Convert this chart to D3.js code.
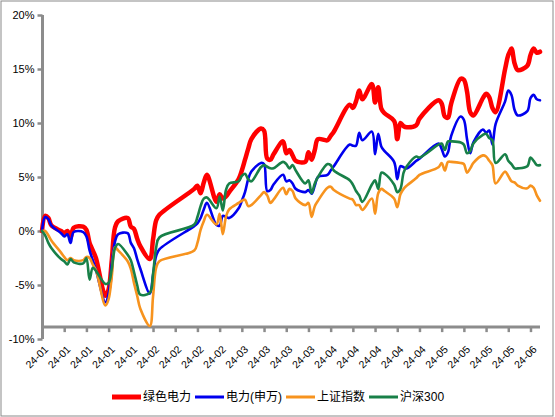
<!DOCTYPE html>
<html>
<head>
<meta charset="utf-8">
<script src="https://cdn.jsdelivr.net/npm/d3@7/dist/d3.min.js"></script>
<style>
  body { margin: 0; background: #fff; }
  svg text { font-family: Arial, "Liberation Sans", "Noto Sans CJK SC", sans-serif; fill: #000; }
</style>
</head>
<body>
<svg id="chart" width="555" height="417"></svg>
<script>
'use strict';

// trading days, 2024
const dates = [
  "2024-01-02","2024-01-03","2024-01-04","2024-01-05","2024-01-08","2024-01-09","2024-01-10","2024-01-11","2024-01-12",
  "2024-01-15","2024-01-16","2024-01-17","2024-01-18","2024-01-19","2024-01-22","2024-01-23","2024-01-24","2024-01-25",
  "2024-01-26","2024-01-29","2024-01-30","2024-01-31",
  "2024-02-01","2024-02-02","2024-02-05","2024-02-06","2024-02-07","2024-02-08","2024-02-19","2024-02-20","2024-02-21",
  "2024-02-22","2024-02-23","2024-02-26","2024-02-27","2024-02-28","2024-02-29",
  "2024-03-01","2024-03-04","2024-03-05","2024-03-06","2024-03-07","2024-03-08","2024-03-11","2024-03-12","2024-03-13",
  "2024-03-14","2024-03-15","2024-03-18","2024-03-19","2024-03-20","2024-03-21","2024-03-22","2024-03-25","2024-03-26",
  "2024-03-27","2024-03-28","2024-03-29",
  "2024-04-01","2024-04-02","2024-04-03","2024-04-08","2024-04-09","2024-04-10","2024-04-11","2024-04-12","2024-04-15",
  "2024-04-16","2024-04-17","2024-04-18","2024-04-19","2024-04-22","2024-04-23","2024-04-24","2024-04-25","2024-04-26",
  "2024-04-29","2024-04-30",
  "2024-05-06","2024-05-07","2024-05-08","2024-05-09","2024-05-10","2024-05-13","2024-05-14","2024-05-15","2024-05-16",
  "2024-05-17","2024-05-20","2024-05-21","2024-05-22","2024-05-23","2024-05-24","2024-05-27","2024-05-28","2024-05-29",
  "2024-05-30","2024-05-31",
  "2024-06-03","2024-06-04","2024-06-05","2024-06-06","2024-06-07"
];

// cumulative return, %
const greenPower = [
  0.0, 1.4, 1.2, 0.5, 0.0, -0.2, 0.0, -0.6, 0.3, 0.4, 0.1, -1.1, -1.8, -2.5, -6.0, -5.4, -2.7, 0.3, 0.9, 1.2, 0.4, 0.2,
  -0.7, -1.4, -2.6, -0.8, 1.0, 1.5, 3.9, 4.2, 3.5, 4.5, 5.2, 2.7, 3.4, 3.0, 3.2,
  3.6, 4.8, 5.6, 6.6, 7.6, 8.5, 9.5, 9.3, 6.7, 6.6, 7.1, 8.3, 7.2, 7.5, 7.0, 6.5, 6.4, 7.3, 6.6, 7.5, 8.5,
  8.4, 8.8, 9.2, 11.7, 11.4, 12.0, 13.0, 12.2, 13.6, 11.9, 13.3, 11.3, 10.9, 10.2, 8.5, 10.0, 9.7, 9.6, 9.8, 10.4,
  12.1, 11.8, 10.6, 10.5, 11.8, 14.1, 14.0, 12.9, 11.0, 10.7, 12.3, 12.7, 12.4, 11.4, 11.0, 15.0, 16.3, 16.9, 15.5, 14.9,
  15.3, 16.3, 16.9, 16.5, 16.6
];
const powerSW = [
  0.0, 1.3, 1.1, 0.5, -0.2, -0.5, -0.3, -1.1, -0.1, -0.1, -0.5, -1.8, -2.7, -3.6, -6.6, -5.8, -3.0, -1.0, -0.3, -0.2, -1.1, -1.6,
  -2.6, -3.5, -5.8, -4.1, -2.3, -1.7, 0.45, 0.7, 1.2, 2.0, 2.6, 0.55, 0.5, 1.4, 1.3,
  1.2, 2.1, 2.8, 3.6, 4.8, 5.5, 6.3, 6.2, 3.7, 3.8, 4.3, 5.2, 4.6, 4.7, 4.4, 3.9, 3.6, 3.8, 3.45, 4.2, 5.0,
  5.2, 5.6, 6.0, 8.0, 7.9, 7.9, 9.1, 8.4, 9.2, 7.1, 9.0, 7.8, 7.4, 6.4, 4.8, 6.0, 5.9, 5.8, 6.5, 6.7,
  8.1, 7.6, 6.9, 7.3, 8.8, 10.6, 10.3, 8.5, 7.2, 8.2, 9.4, 9.1, 9.3, 8.0, 9.9, 12.0, 13.0, 12.6, 11.2, 10.7,
  11.1, 12.3, 12.6, 12.2, 12.1
];
const shComposite = [
  0.0, 0.0, -0.4, -0.9, -2.0, -2.4, -2.7, -2.5, -2.7, -2.7, -2.4, -2.5, -3.1, -3.6, -6.9, -6.3, -4.2, -1.5, -1.8, -2.8, -3.5, -4.8,
  -6.0, -7.2, -8.8, -6.1, -3.4, -2.8, -1.8, -1.1, 0.1, 0.9, 1.5, 0.6, 1.6, -0.3, 1.3,
  2.0, 2.6, 2.8, 2.9, 2.3, 2.4, 3.3, 3.6, 3.3, 2.6, 2.9, 4.0, 3.4, 3.9, 3.7, 3.0, 2.4, 2.6, 1.3, 2.3, 2.8,
  4.0, 4.1, 3.8, 3.0, 2.9, 2.4, 2.4, 1.95, 3.0, 1.6, 3.5, 3.9, 3.7, 3.0, 2.2, 3.4, 3.9, 4.2, 4.9, 5.2,
  5.9, 6.3, 5.6, 6.4, 6.4, 6.3, 6.2, 5.4, 5.8, 6.3, 7.0, 6.9, 6.5, 6.1, 4.4, 5.5, 5.1, 4.6, 4.5, 4.2,
  3.95, 4.2, 4.0, 3.3, 2.8
];
const csi300 = [
  0.0, -0.4, -1.1, -1.6, -2.6, -2.8, -3.1, -2.6, -2.9, -3.0, -2.5, -4.5, -3.4, -3.7, -4.9, -4.8, -3.5, -1.6, -1.2, -2.2, -2.7, -3.8,
  -5.0, -5.9, -5.7, -4.0, -1.5, -0.6, 0.6, 1.3, 2.3, 3.0, 3.1, 2.1, 3.2, 1.9, 3.8,
  4.4, 4.6, 5.1, 5.3, 4.8, 4.6, 5.9, 6.1, 5.95, 5.8, 5.8, 6.4, 6.2, 5.8, 6.1, 5.6, 4.4, 4.7, 3.5, 4.4, 5.0,
  6.2, 6.1, 5.6, 4.7, 4.3, 3.7, 3.3, 2.7, 4.3, 4.7, 3.9, 5.4, 5.3, 4.3, 3.6, 3.9, 5.4, 6.0, 6.9, 6.8,
  8.0, 8.1, 7.5, 8.3, 8.3, 8.2, 8.0, 7.2, 7.4, 8.1, 8.9, 9.0, 8.6, 8.4, 6.3, 7.1, 6.5, 6.2, 5.8, 5.8,
  6.0, 6.8, 6.5, 6.1, 6.1
];

const seriesNames = ["绿色电力", "电力(申万)", "上证指数", "沪深300"];
const seriesValues = [greenPower, powerSW, shComposite, csi300];
const yTicks = [-10, -5, 0, 5, 10, 15, 20];

const colors = ["#ff0000", "#0000ee", "#f7931e", "#188048"];
const widths = [4.5, 2.6, 2.6, 2.6];
const axisColor = "#8c8c8c";

const svg = d3.select("#chart");
const parse = d3.utcParse("%Y-%m-%d");
const days = dates.map(parse);

const plot = { left: 42, right: 540, top: 15, bottom: 339 };
const x = d3.scaleUtc().domain([days[0], days[days.length - 1]]).range([plot.left, plot.right]);
const y = d3.scaleLinear().domain([-10, 20]).range([plot.bottom, plot.top]);
const xAxisAt = y(-8.9);   // horizontal axis crosses just under the lowest point

// outer frame
svg.append("rect")
  .attr("x", 1).attr("y", 1).attr("width", 552).attr("height", 415)
  .attr("fill", "none").attr("stroke", "#8a8a8a").attr("stroke-width", 1);

/** y axis */
const yAxis = svg.append("g").attr("transform", `translate(${plot.left + 0.5},0)`)
  .call(d3.axisLeft(y).tickValues(yTicks).tickSize(5).tickPadding(3).tickFormat(d => d + "%"));
yAxis.select(".domain").attr("stroke", axisColor).attr("stroke-width", 3)
  .attr("d", `M0,${plot.top}V${plot.bottom}`);
yAxis.selectAll(".tick line").attr("stroke", axisColor).attr("stroke-width", 2.5);
yAxis.selectAll(".tick text").attr("font-size", 11).attr("fill", "#000")
  .attr("font-family", "Arial, 'Liberation Sans', sans-serif");

/** x axis: weekly ticks from the first day */
const weekTicks = d3.utcDay.range(days[0], d3.utcDay.offset(days[days.length - 1], 1), 7);
const xAxis = svg.append("g").attr("transform", `translate(0,${xAxisAt})`)
  .call(d3.axisBottom(x).tickValues(weekTicks).tickSize(5).tickFormat(""));
xAxis.select(".domain").attr("stroke", axisColor).attr("stroke-width", 3)
  .attr("d", `M${plot.left},0H${plot.right}`);
xAxis.selectAll(".tick line").attr("stroke", axisColor).attr("stroke-width", 2.5);

const fmt = d3.utcFormat("%y-%m");
svg.append("g").selectAll("text")
  .data(weekTicks).enter().append("text")
  .attr("transform", d => `translate(${x(d) + 5},${xAxisAt + 21}) rotate(-45)`)
  .attr("text-anchor", "end")
  .attr("dominant-baseline", "middle")
  .attr("font-size", 10.5)
  .text(d => fmt(d));

/** series */
const line = d3.line()
  .curve(d3.curveCatmullRom.alpha(0.5))
  .x((d, i) => x(days[i]))
  .y(d => y(d));

svg.append("g").selectAll("path")
  .data(seriesValues).enter().append("path")
  .attr("d", d => line(d))
  .attr("fill", "none")
  .attr("stroke", (d, i) => colors[i])
  .attr("stroke-width", (d, i) => widths[i])
  .attr("stroke-linejoin", "round")
  .attr("stroke-linecap", "round");

/** legend */
const legend = svg.append("g").attr("transform", "translate(112,397)");
let lx = 0;
seriesNames.forEach((name, i) => {
  legend.append("line")
    .attr("x1", lx).attr("x2", lx + 29).attr("y1", 0).attr("y2", 0)
    .attr("stroke", colors[i]).attr("stroke-width", i === 0 ? 5 : 3);
  const t = legend.append("text")
    .attr("x", lx + 31).attr("y", 0)
    .attr("dominant-baseline", "central")
    .attr("font-size", 12)
    .attr("font-family", "Arial, 'Liberation Sans', 'Noto Sans CJK SC', sans-serif")
    .text(name);
  lx += 31 + t.node().getComputedTextLength() + 4;
});
</script>
</body>
</html>
